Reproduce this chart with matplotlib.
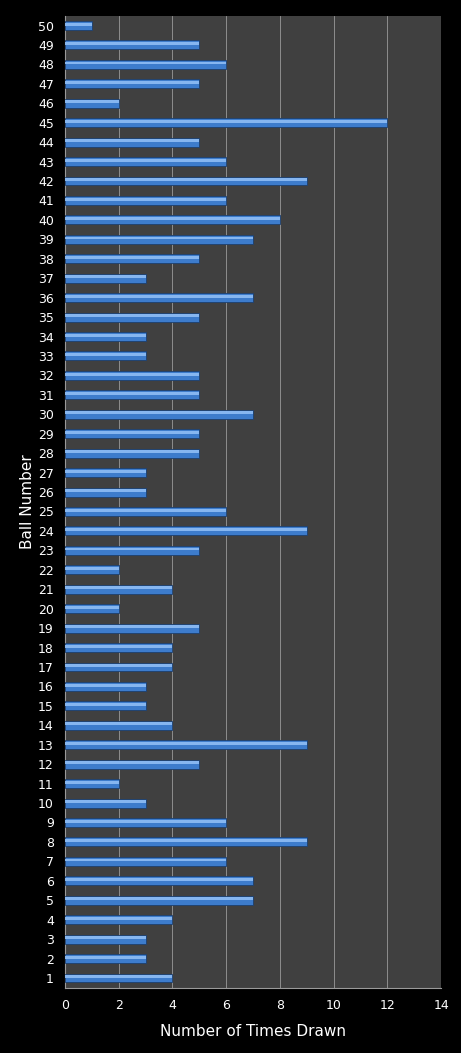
import matplotlib
matplotlib.use("Agg")
import matplotlib.pyplot as plt
import numpy as np

balls = list(range(1, 51))
times_drawn = [4, 3, 3, 4, 7, 7, 6, 9, 6, 3,
               2, 5, 9, 4, 3, 3, 4, 4, 5, 2,
               4, 2, 5, 9, 6, 3, 3, 5, 5, 7,
               5, 5, 3, 3, 5, 7, 3, 5, 7, 8,
               6, 9, 6, 5, 12, 2, 5, 6, 5, 1]
x_ticks = [0, 2, 4, 6, 8, 10, 12, 14]

fig = plt.figure(figsize=(4.61, 10.53), dpi=100, facecolor="black")
ax = fig.add_axes([0.141, 0.062, 0.816, 0.923])
ax.set_facecolor("#404040")

y = np.array(balls)
# main bar body, then a lighter band on top for the glossy look
ax.barh(y, times_drawn, height=0.46, color="#3d7ccc", edgecolor="#1d3f6e", linewidth=0.6, zorder=3)
ax.barh(y + 0.07, times_drawn, height=0.15, color="#86b6f0", linewidth=0, zorder=4)

ax.set_xlim(0, 14)
ax.set_ylim(0.5, 50.5)
ax.set_xticks(x_ticks)
ax.set_yticks(balls)
ax.tick_params(colors="white", labelsize=9, length=0, pad=8)
ax.xaxis.grid(True, color="#9a9a9a", linewidth=0.6, zorder=0)
ax.set_axisbelow(True)

for side in ["top", "right"]:
    ax.spines[side].set_visible(False)
for side in ["left", "bottom"]:
    ax.spines[side].set_color("#9a9a9a")

ax.set_xlabel("Number of Times Drawn", color="white", fontsize=11, labelpad=9)
ax.set_ylabel("Ball Number", color="white", fontsize=11, labelpad=2)

fig.savefig("out.png", dpi=100, facecolor="black")
